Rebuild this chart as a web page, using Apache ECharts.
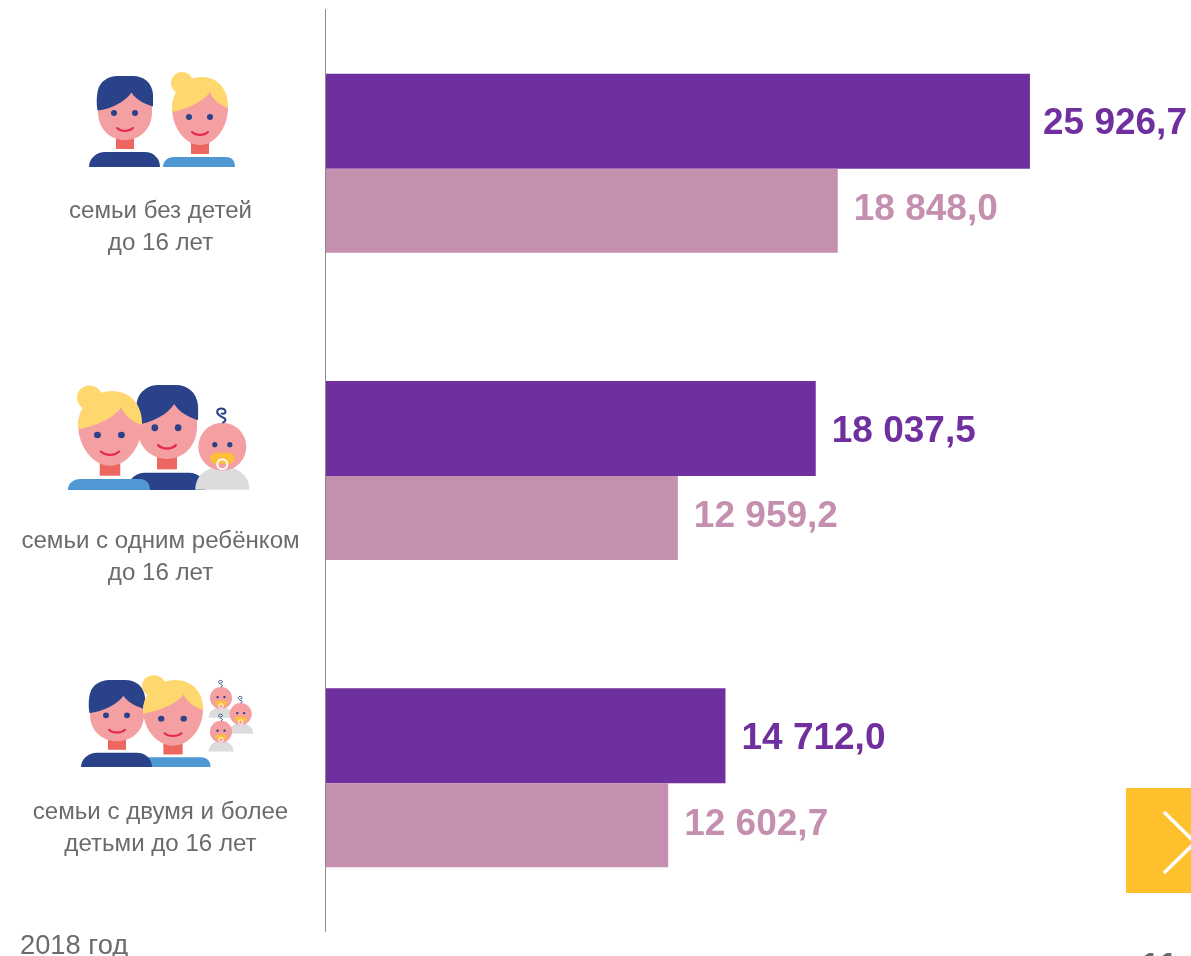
<!DOCTYPE html>
<html>
<head>
<meta charset="utf-8">
<style>html,body{margin:0;padding:0;background:#fff}#chart{width:1191px;height:956px;overflow:hidden}</style>
<script src="https://cdn.jsdelivr.net/npm/echarts@6/dist/echarts.min.js"></script>
</head>
<body>
<div id="chart"></div>
<script>
const categories = ['семьи без детей\nдо 16 лет', 'семьи с одним ребёнком\nдо 16 лет', 'семьи с двумя и более\nдетьми до 16 лет']
const darkValues = [25926.7, 18037.5, 14712.0]
const lightValues = [18848.0, 12959.2, 12602.7]
const yearLabel = '2018 год'
const pageLabel = '11'

const PURPLE = '#6f2f9e'
const PINK = '#c58fb0'
const NAVY = '#2a4289'
const BLOND = '#fed86e'
const BLUE = '#4f98d4'
const SKIN = '#f4a0a2'
const NECK = '#ee6660'
const SMILE = '#e8294f'

function place (x, y, sx, sy, body) {
  return `<g transform="translate(${x} ${y}) scale(${sx} ${sy})">${body}</g>`
}

function manBody () {
  return `<path fill="${NAVY}" d="M-36 91C-36 82-28 76-20 76L20 76C28 76 35 82 35 91Z"/>`
}

function manHead () {
  return `<rect fill="${NECK}" x="-9" y="61" width="18" height="12"/>` +
    `<path fill="${SKIN}" d="M-27 30C-27 20-20 10-10 10L10 10C20 10 27 18 27 30L27 36C27 54 14 64 0 64C-14 64-27 54-27 36Z"/>` +
    `<path fill="${NAVY}" d="M-27.5 34.5C-29 26-28 18-27 14C-25 5-16 0-8 0L8 0C18 0 27 6 28 18L28 30.5C20 28 11 24 6.5 16.5C0 26-14 33-27.5 34.5Z"/>` +
    `<circle fill="${NAVY}" cx="-11" cy="37" r="3"/><circle fill="${NAVY}" cx="10" cy="37" r="3"/>` +
    `<path fill="none" stroke="${SMILE}" stroke-width="2" stroke-linecap="round" d="M-8 52C-4 56 4 56 8 52"/>`
}

function womanBody () {
  return `<path fill="${BLUE}" d="M-37 90C-37 84-32 80-26 80L26 80C32 80 35 84 35 90Z"/>`
}

function womanHead () {
  return `<rect fill="${NECK}" x="-9" y="64" width="18" height="13"/>` +
    `<path fill="${SKIN}" d="M-28 30C-28 20-20 10-10 10L10 10C20 10 28 20 28 30C28 52 14 68 0 68C-14 68-28 52-28 30Z"/>` +
    `<circle fill="${BLOND}" cx="-18" cy="6" r="11"/>` +
    `<path fill="${BLOND}" d="M-28 35C-29 12-14 0 2 0C18 0 29 13 28 31C20 28 13 23 10 15C2 26-14 32-28 35Z"/>` +
    `<circle fill="${NAVY}" cx="-11" cy="40" r="3"/><circle fill="${NAVY}" cx="10" cy="40" r="3"/>` +
    `<path fill="none" stroke="${SMILE}" stroke-width="2" stroke-linecap="round" d="M-8 55C-4 59 4 59 8 55"/>`
}

function baby () {
  return `<path fill="#dcdcdc" d="M-27 43C-27 28-15 20 0 20C15 20 27 28 27 43Z"/>` +
    `<circle fill="${SKIN}" cx="0" cy="0" r="24"/>` +
    `<path fill="none" stroke="${NAVY}" stroke-width="2" d="M0-24C4-25 4-28 1-29C-3-31-6-33-5-36C-4-39 2-39 3-36C4-33 0-32-1-34"/>` +
    `<circle fill="${NAVY}" cx="-7.5" cy="-2" r="2.6"/><circle fill="${NAVY}" cx="7.5" cy="-2" r="2.6"/>` +
    `<ellipse fill="#fcbf3a" cx="-4.5" cy="11.5" rx="8" ry="6"/><ellipse fill="#fcbf3a" cx="4.5" cy="11.5" rx="8" ry="6"/>` +
    `<circle fill="none" stroke="#fff" stroke-width="2" cx="0" cy="17.5" r="5"/>`
}

const iconsSvg = '<svg xmlns="http://www.w3.org/2000/svg" width="1191" height="956" viewBox="0 0 1191 956">' +
  // first group
  place(125, 76, 1, 1, manHead() + manBody()) +
  place(200, 77, 1, 1, womanHead() + womanBody()) +
  // second group
  place(167, 385, 1.11, 1.155, manHead() + manBody()) +
  place(110, 391, 1.14, 1.1, womanHead() + womanBody()) +
  place(222.3, 446.7, 1, 1, baby()) +
  // third group
  place(173, 680, 1.07, 0.967, womanBody()) +
  place(117, 680, 1, 0.956, manHead() + manBody()) +
  place(173, 680, 1.07, 0.967, womanHead()) +
  place(221, 698, 0.46, 0.46, baby()) +
  place(240.7, 714, 0.46, 0.46, baby()) +
  place(221, 731.7, 0.46, 0.46, baby()) +
  '</svg>'

const labelCenterX = 160.5
const labelCenterY = [227, 557, 828]
const darkLabelGap = [13, 16, 16]

function formatValue (v) {
  const parts = v.toFixed(1).split('.')
  return parts[0].replace(/\B(?=(\d{3})+$)/g, ' ') + ',' + parts[1]
}

const graphicItems = [
  {
    type: 'image',
    silent: true,
    style: { image: 'data:image/svg+xml;charset=utf-8,' + encodeURIComponent(iconsSvg), x: 0, y: 0, width: 1191, height: 956 }
  },
  {
    type: 'rect',
    silent: true,
    shape: { x: 1126, y: 788, width: 65, height: 105 },
    style: { fill: '#fec02c' }
  },
  {
    type: 'polyline',
    silent: true,
    shape: { points: [[1165, 813], [1195, 842.5], [1165, 872]] },
    style: { stroke: '#fff', lineWidth: 3.5, lineCap: 'round', fill: null }
  },
  {
    type: 'text',
    silent: true,
    style: { text: yearLabel, x: 20, y: 946, verticalAlign: 'middle', fill: '#6b6b6b', font: '27.3px "Liberation Sans"' }
  },
  {
    type: 'text',
    silent: true,
    style: { text: pageLabel, x: 1159, y: 951, align: 'center', verticalAlign: 'top', fill: '#6b6b6b', font: 'bold 36px "Liberation Sans"' }
  }
]

categories.forEach((name, i) => {
  graphicItems.push({
    type: 'text',
    silent: true,
    style: {
      text: name,
      x: labelCenterX,
      y: labelCenterY[i],
      align: 'center',
      verticalAlign: 'middle',
      lineHeight: 32,
      fill: '#6b6b6b',
      font: '24.1px "Liberation Sans"'
    }
  })
})

const chart = echarts.init(document.getElementById('chart'), null, { renderer: 'canvas' })

chart.setOption({
  animation: false,
  grid: { left: 326, top: 9.5, width: 841.7, height: 922, containLabel: false },
  xAxis: {
    type: 'value',
    min: 0,
    max: 31000,
    show: false
  },
  yAxis: {
    type: 'category',
    inverse: true,
    offset: 1,
    data: categories,
    axisTick: { show: false },
    axisLabel: { show: false },
    axisLine: { show: true, onZero: false, lineStyle: { color: '#8a8a8a', width: 1 } }
  },
  series: [
    {
      name: 'Ряд 1',
      type: 'bar',
      barWidth: 95,
      barGap: 0,
      data: darkValues.map((v, i) => ({ value: v, label: { distance: darkLabelGap[i] } })),
      itemStyle: { color: PURPLE },
      label: {
        show: true,
        position: 'right',
        offset: [0, 3],
        color: PURPLE,
        fontFamily: 'Liberation Sans',
        fontWeight: 'bold',
        fontSize: 37,
        formatter: p => formatValue(p.value)
      }
    },
    {
      name: 'Ряд 2',
      type: 'bar',
      barWidth: 84,
      barGap: 0,
      data: lightValues,
      itemStyle: { color: PINK },
      label: {
        show: true,
        position: 'right',
        distance: 16,
        offset: [0, -1],
        color: PINK,
        fontFamily: 'Liberation Sans',
        fontWeight: 'bold',
        fontSize: 37,
        formatter: p => formatValue(p.value)
      }
    }
  ],
  graphic: { elements: graphicItems }
})
</script>
</body>
</html>
